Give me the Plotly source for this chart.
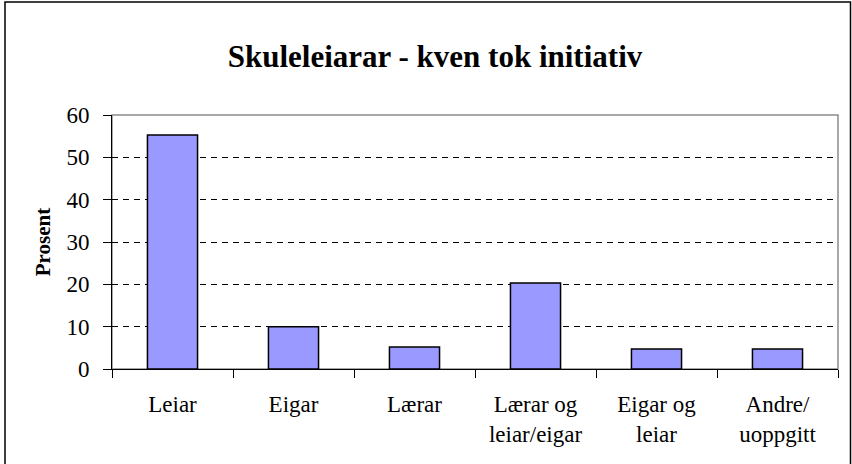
import plotly.graph_objects as go

categories = ["Leiar", "Eigar", "Lærar", "Lærar og<br>leiar/eigar", "Eigar og<br>leiar", "Andre/<br>uoppgitt"]
prosent = [55.3, 10.0, 5.2, 20.3, 4.7, 4.7]
y_ticks = [0, 10, 20, 30, 40, 50, 60]

title_text = "Skuleleiarar - kven tok initiativ"
y_title = "Prosent"

FONT = "Liberation Serif"
W, H = 852, 464
ML, MR, MT, MB = 112, 14, 115, 95
PW = W - ML - MR
PH = H - MT - MB

fig = go.Figure()
fig.add_trace(go.Bar(
    x=categories, y=prosent,
    marker=dict(color="#9999FF", line=dict(color="black", width=1.5)),
    hoverinfo="x+y",
))

fig.update_layout(
    width=W, height=H,
    margin=dict(l=ML, r=MR, t=MT, b=MB),
    paper_bgcolor="white", plot_bgcolor="white",
    bargap=0.586,
    showlegend=False,
    font=dict(family=FONT, color="black"),
    title=dict(text="<b>" + title_text + "</b>", font=dict(family=FONT, size=31, color="black"),
               x=435 / W, xanchor="center", xref="container",
               y=1 - 56 / H, yanchor="middle", yref="container"),
    xaxis=dict(
        type="category",
        showline=True, linecolor="black", linewidth=1,
        ticks="outside", ticklen=8, tickcolor="black", tickwidth=1,
        tickson="boundaries",
        tickfont=dict(family=FONT, size=23, color="black"),
        ticklabelstandoff=14,
        showgrid=False,
    ),
    yaxis=dict(
        range=[0, 60],
        tickvals=y_ticks,
        showline=True, linecolor="black", linewidth=1,
        ticks="outside", ticklen=8, tickcolor="black", tickwidth=1,
        tickfont=dict(family=FONT, size=23, color="black"),
        ticklabelstandoff=9,
        showgrid=True, gridcolor="black", gridwidth=1, griddash="6px,5px",
        zeroline=False,
        title=dict(text="<b>" + y_title + "</b>", font=dict(family=FONT, size=21, color="black"), standoff=10),
        automargin=False,
    ),
)

# plot-area border (grey), drawn below bars
fig.add_shape(type="rect", xref="paper", yref="paper", x0=0, x1=1, y0=0, y1=1,
              line=dict(color="#8c8c8c", width=1.5), layer="below")

# outer chart frame
fig.add_shape(type="rect", xref="paper", yref="paper",
              x0=(5 - ML) / PW, x1=(850.5 - ML) / PW,
              y0=-(H + 5 - MT - PH) / PH, y1=1 + (MT - 2) / PH,
              line=dict(color="black", width=1.5), layer="above")

fig.write_html("out.html", config={"displayModeBar": False},
               post_script="document.body.style.margin='0';")
